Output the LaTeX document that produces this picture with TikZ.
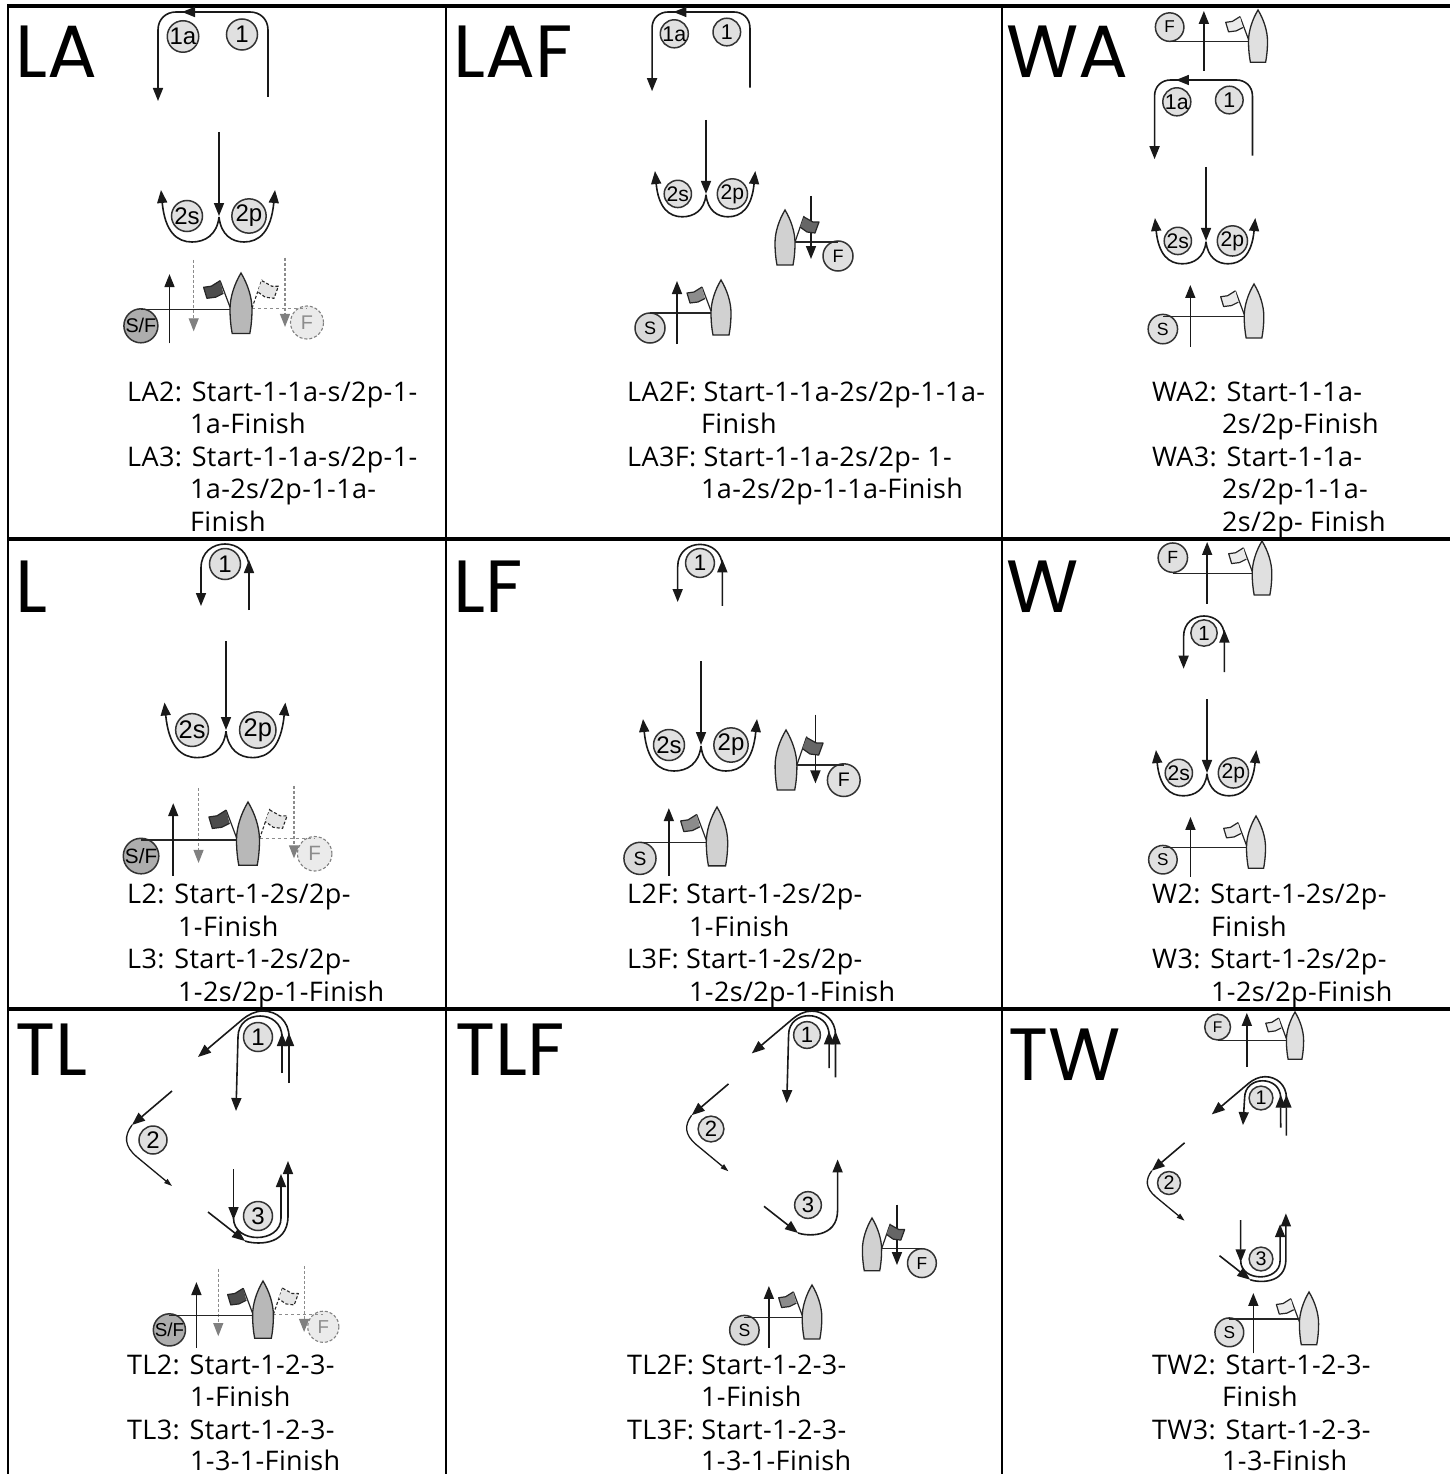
\documentclass[tikz,border=0pt]{standalone}
\usepackage{fontspec}
\setmainfont[LetterSpace=1.3]{Open Sans}
\newfontfamily\markfont{Liberation Sans}
\newfontfamily\titlefont{Poppins}
\usetikzlibrary{arrows.meta}
\newcommand{\legw}{1.6pt}
\newcommand{\rigy}{33}
\tikzset{
    leg/.style = {line width=\legw, draw=black!90, -{Triangle[length=13pt,width=10pt]}},
    shortleg/.style = {line width=1.3pt, draw=black!90, -{Triangle[length=8pt,width=5pt]}},
    rmark/.style = {circle, draw=black!80, line width=1.5pt, fill=black!12, minimum size=31pt, inner sep=0pt, outer sep=0pt, font=\markfont\fontsize{24}{24}\selectfont},
    bmark/.style = {rmark, minimum size=30pt, font=\markfont\fontsize{18}{18}\selectfont},
    hull/.style = {draw=black!85, line width=1.3pt},
    flag/.style = {draw=black!85, line width=1.2pt, line join=round},
    route/.style = {anchor=base west, inner sep=0pt, font=\fontsize{27}{27}\selectfont},
    title/.style = {anchor=base west, inner sep=0pt, font=\titlefont\fontsize{74}{74}\selectfont},
    solidrig/.style = {line width=1.4pt, draw=black!85},
    solidarrow/.style = {leg},
    solidmark/.style = {bmark},
    solidflag/.style = {flag},
    ghostrig/.style = {line width=1.1pt, draw=black!45, dashed},
    ghostarrow/.style = {line width=1.1pt, draw=black!45, densely dashed, -{Triangle[length=13pt,width=10pt,color=black!50]}},
    ghostmark/.style = {bmark, densely dashed, draw=black!50, line width=1.1pt, fill=black!8, text=black!45},
    ghostflag/.style = {flag, densely dashed, line width=1.1pt},
}
% mark 1 and 1a with the offset leg
\newcommand{\offsetmarks}[3]{
    \begin{scope}[shift={(#2)},scale=#3,transform shape]
        \node[rmark] (#1-1a) at (-30,24.5) {1a};
        \node[rmark] (#1-1) at (29,22.5) {1};
        \coordinate (#1-in) at (55,85);
        \coordinate (#1-out) at (-55,89);
        \draw[leg] (#1-in) -- (55,18) .. controls (55,7) and (47,0) .. (37,0) -- (-37,0) .. controls (-47,0) and (-55,7) .. (-55,18) -- (#1-out);
        \draw[leg] (-15,0) -- (-31,0);
    \end{scope}
}
% gate 2s and 2p
\newcommand{\gatemarks}[3]{
    \begin{scope}[shift={(#2)},scale=#3,transform shape]
        \node[rmark] (#1-2s) at (-32,84) {2s};
        \node[rmark] (#1-2p) at (30,84) {2p};
        \coordinate (#1-top) at (0,0);
        \coordinate (#1-cusp) at (0,85);
        \coordinate (#1-sout) at (-58,58);
        \coordinate (#1-pout) at (56,58);
        \draw[leg] (#1-top) -- (0,84);
        \draw[leg] (#1-cusp) .. controls (-2,103) and (-14,110) .. (-27,110) .. controls (-42,110) and (-54,100) .. (#1-sout);
        \draw[leg] (#1-cusp) .. controls (2,103) and (13,110) .. (25,110) .. controls (40,110) and (52,100) .. (#1-pout);
    \end{scope}
}
% mark 1 alone, turned round
\newcommand{\singleloop}[3]{
    \begin{scope}[shift={(#2)},scale=#3,transform shape]
        \node[rmark] (#1-1) at (0,0) {1};
        \coordinate (#1-in) at (24,46);
        \coordinate (#1-turn) at (24,4);
        \coordinate (#1-out) at (-24,42);
        \draw[leg] (#1-in) -- (24,-4);
        \draw[leg] (#1-turn) .. controls (24,-28) and (-24,-28) .. (-24,4) -- (#1-out);
    \end{scope}
}
% triangle mark 1, two rounds; last argument is the length of the leg going down
\newcommand{\triangleone}[4]{
    \begin{scope}[shift={(#2)},scale=#3,transform shape]
        \node[rmark, minimum size=29pt] (#1-1) at (0,0) {1};
        \coordinate (#1-ina) at (24,36);
        \coordinate (#1-inb) at (31,46);
        \coordinate (#1-outa) at (-22,#4);
        \coordinate (#1-outb) at (-60,20);
        \draw[leg] (#1-ina) -- (24,-4);
        \draw[leg] (#1-inb) -- (31,-4);
        \draw[leg] (24,0) .. controls (24,-28) and (-20,-28) .. (-20,0) -- (#1-outa);
        \draw[leg] (31,0) .. controls (31,-16) and (19,-26) .. (5,-26) .. controls (-3,-26) and (-10,-22) .. (-15,-18) -- (#1-outb);
    \end{scope}
}
% wing mark 2
\newcommand{\wingmark}[3]{
    \begin{scope}[shift={(#2)},scale=#3,transform shape]
        \node[rmark, minimum size=28pt] (#1-2) at (0,0) {2};
        \coordinate (#1-in) at (19,-49);
        \coordinate (#1-turn) at (-21,-15);
        \coordinate (#1-out) at (19,46);
        \draw[leg] (#1-in) -- (#1-turn);
        \draw[shortleg] (#1-turn) .. controls (-29,-4) and (-29,6) .. (-16,17) -- (#1-out);
    \end{scope}
}
% leeward turn at mark 3, outer track
\newcommand{\leewardouter}[3]{
    \begin{scope}[shift={(#2)},scale=#3,transform shape]
        \coordinate (#1-ina) at (-50,-4);
        \coordinate (#1-turn) at (-13,25);
        \coordinate (#1-outa) at (30,-55);
        \draw[leg] (#1-ina) -- (#1-turn);
        \draw[leg] (#1-turn) .. controls (-5,28) and (30,32) .. (30,0) -- (#1-outa);
    \end{scope}
}
% leeward turn at mark 3, inner track
\newcommand{\leewardinner}[3]{
    \begin{scope}[shift={(#2)},scale=#3,transform shape]
        \coordinate (#1-inb) at (-24.5,-47);
        \coordinate (#1-outb) at (23,-42);
        \draw[leg] (#1-inb) -- (-24.5,4);
        \draw[leg] (-24.5,2) .. controls (-24.5,28) and (23,28) .. (23,2) -- (#1-outb);
    \end{scope}
}
\newcommand{\boathull}[1]{
    \fill[fill=#1] (0,0) .. controls (6,10) and (10,22) .. (10,33) .. controls (10,42) and (9,50) .. (8,55) -- (-8,55) .. controls (-9,50) and (-10,42) .. (-10,33) .. controls (-10,22) and (-6,10) .. (0,0) -- cycle;
    \draw[hull] (0,0) .. controls (6,10) and (10,22) .. (10,33) .. controls (10,42) and (9,50) .. (8,55) -- (-8,55) .. controls (-9,50) and (-10,42) .. (-10,33) .. controls (-10,22) and (-6,10) .. (0,0) -- cycle;
}
% committee boat with its line, its flag and a mark to the left
\newcommand{\boatline}[9]{
    \begin{scope}[shift={(#2)},scale=#3,transform shape]
        \node[bmark, fill=#7] (#1-mark) at (#4) {#6};
        \coordinate (#1-hull) at (-10,\rigy);
        \coordinate (#1-tail) at (#5,64);
        \coordinate (#1-tip) at (#5,1);
        \draw[solidrig] (#1-hull -| #1-mark) -- (#1-hull);
        \draw[leg] (#1-tail) -- (#1-tip);
        \draw[flag] (-10,31) -- (-19,7);
        \draw[flag, fill=#8] (-19,7) -- (-27,12) -- (-34,13) -- (-31,23) -- (-23,22) -- (-16,18.5);
        \boathull{#9}
    \end{scope}
}
% flag, line and arrow on the right of a boat
\newcommand{\finishline}[7]{
    \begin{scope}[shift={(#2)},scale=#3,transform shape]
        \node[#6mark] (#1-mark) at (#5) {F};
        \coordinate (#1-hull) at (10,32);
        \coordinate (#1-tail) at (#4,-14);
        \coordinate (#1-tip) at (#4,49);
        \draw[#6rig] (#1-hull) -- (#1-hull -| #1-mark);
        \draw[#6arrow] (#1-tail) -- (#1-tip);
        \draw[#6flag] (10,32) -- (19,6);
        \draw[#6flag, fill=#7] (19,7) -- (28,12) -- (34,12) -- (30,23) -- (22,22) -- (15,17);
    \end{scope}
}
\newcommand{\ghostleft}[3]{
    \begin{scope}[shift={(#2)},scale=#3]
        \coordinate (#1-gtail) at (-43,-12);
        \coordinate (#1-gtip) at (-43,53);
        \draw[ghostarrow] (#1-gtail) -- (#1-gtip);
    \end{scope}
}
\newcommand{\finishboat}[3]{
    \begin{scope}[shift={(#1)},scale=#2,transform shape]
        \boathull{#3}
    \end{scope}
}

\begin{document}
\begin{tikzpicture}[x=1pt,y=-1pt]
    \useasboundingbox (0,0) rectangle (1450,1474);
    \fill[white] (0,0) rectangle (1450,1474);
    % table
    \draw[line width=4pt] (7,6) -- (1450,6);
    \draw[line width=3.6pt] (7,539) -- (1450,539);
    \draw[line width=3.6pt] (7,1009) -- (1450,1009);
    \draw[line width=2.4pt] (8,5) -- (8,1474);
    \draw[line width=2.4pt] (446,5) -- (446,1474);
    \draw[line width=2.4pt] (1002,5) -- (1002,1474);

    % LA
    \node[title] (la-t) at (15,78) {LA};
    \offsetmarks{la-a}{213,12}{1}
    \gatemarks{la-g}{219,132}{1}
    \ghostleft{la-s}{241,273}{1.1}
    \finishline{la-f}{241,273}{1.1}{40}{60,45}{ghost}{black!10}
    \boatline{la-s}{241,273}{1.1}{-91,48}{-65}{S/F}{black!32}{black!70}{black!28}
    \node[route] (la-r1) at (127,401) {LA2: Start-1-1a-s/2p-1-};
    \node[route] (la-r2) at (190,433) {1a-Finish};
    \node[route] (la-r3) at (127,466) {LA3: Start-1-1a-s/2p-1-};
    \node[route] (la-r4) at (190,498) {1a-2s/2p-1-1a-};
    \node[route] (la-r5) at (190,531) {Finish};

    % LAF
    \node[title] (laf-t) at (453,78) {LAF};
    \offsetmarks{laf-a}{701,12}{.89}
    \gatemarks{laf-g}{706,120}{.88}
    \boatline{laf-s}{721,280}{1}{-71,48}{-44}{S}{black!15}{black!45}{black!18}
    \finishline{laf-f}{785,210}{1}{26}{53,46}{solid}{black!60}
    \finishboat{785,210}{1}{black!18}
    \node[route] (laf-r1) at (627,401) {LA2F: Start-1-1a-2s/2p-1-1a-};
    \node[route] (laf-r2) at (701,433) {Finish};
    \node[route] (laf-r3) at (627,466) {LA3F: Start-1-1a-2s/2p- 1-};
    \node[route] (laf-r4) at (701,498) {1a-2s/2p-1-1a-Finish};

    % WA
    \node[title] (wa-t) at (1006,78) {WA};
    \boatline{wa-f}{1258,10}{.95}{-93,18}{-57}{F}{black!12}{black!8}{black!12}
    \offsetmarks{wa-a}{1203.5,80}{.89}
    \gatemarks{wa-g}{1206,167}{.88}
    \boatline{wa-s}{1254,284}{.98}{-93,46}{-65}{S}{black!12}{black!8}{black!12}
    \node[route] (wa-r1) at (1152,401) {WA2: Start-1-1a-};
    \node[route] (wa-r2) at (1222,433) {2s/2p-Finish};
    \node[route] (wa-r3) at (1152,466) {WA3: Start-1-1a-};
    \node[route] (wa-r4) at (1222,498) {2s/2p-1-1a-};
    \node[route] (wa-r5) at (1222,531) {2s/2p- Finish};

    % L
    \node[title] (l-t) at (15,612) {L};
    \singleloop{l-a}{225,564}{1}
    \gatemarks{l-g}{226,641}{1.06}
    \ghostleft{l-s}{248,802}{1.15}
    \finishline{l-f}{248,802}{1.15}{40}{58,45}{ghost}{black!10}
    \boatline{l-s}{248,802}{1.15}{-93,47}{-65}{S/F}{black!32}{black!70}{black!28}
    \node[route] (l-r1) at (127,903) {L2: Start-1-2s/2p-};
    \node[route] (l-r2) at (178,936) {1-Finish};
    \node[route] (l-r3) at (127,968) {L3: Start-1-2s/2p-};
    \node[route] (l-r4) at (178,1001) {1-2s/2p-1-Finish};

    % LF
    \node[title] (lf-t) at (453,612) {LF};
    \singleloop{lf-a}{700,563}{.93}
    \gatemarks{lf-g}{701,661}{1}
    \boatline{lf-s}{717,807}{1.07}{-72,48}{-45}{S}{black!15}{black!45}{black!18}
    \finishline{lf-f}{786,730}{1.09}{27}{53,46}{solid}{black!60}
    \finishboat{786,730}{1.09}{black!18}
    \node[route] (lf-r1) at (627,903) {L2F: Start-1-2s/2p-};
    \node[route] (lf-r2) at (689,936) {1-Finish};
    \node[route] (lf-r3) at (627,968) {L3F: Start-1-2s/2p-};
    \node[route] (lf-r4) at (689,1001) {1-2s/2p-1-Finish};

    % W
    \node[title] (w-t) at (1006,612) {W};
    \boatline{w-f}{1262,541}{.98}{-91,17}{-56}{F}{black!12}{black!8}{black!12}
    \singleloop{w-a}{1204,633}{.85}
    \gatemarks{w-g}{1207,699}{.88}
    \boatline{w-s}{1256,816}{.95}{-98,46}{-69}{S}{black!12}{black!8}{black!12}
    \node[route] (w-r1) at (1152,903) {W2: Start-1-2s/2p-};
    \node[route] (w-r2) at (1211,936) {Finish};
    \node[route] (w-r3) at (1152,968) {W3: Start-1-2s/2p-};
    \node[route] (w-r4) at (1211,1001) {1-2s/2p-Finish};

    % TL
    \node[title] (tl-t) at (15,1075) {TL};
    \triangleone{tl-a}{258,1037}{1}{74}
    \wingmark{tl-b}{153,1140}{1}
    \node[rmark, minimum size=29pt] (tl-3) at (258,1216) {3};
    \leewardouter{tl-c}{258,1216}{1}
    \leewardinner{tl-c}{258,1216}{1}
    \ghostleft{tl-s}{263,1281}{1.04}
    \finishline{tl-f}{263,1281}{1.04}{39.5}{58,44}{ghost}{black!10}
    \boatline{tl-s}{263,1281}{1.04}{-90,47}{-64}{S/F}{black!32}{black!70}{black!28}
    \node[route] (tl-r1) at (127,1374) {TL2: Start-1-2-3-};
    \node[route] (tl-r2) at (190,1406) {1-Finish};
    \node[route] (tl-r3) at (127,1439) {TL3: Start-1-2-3-};
    \node[route] (tl-r4) at (190,1470) {1-3-1-Finish};

    % TLF
    \node[title] (tlf-t) at (455,1075) {TLF};
    \triangleone{tlf-a}{807,1035}{.92}{74}
    \wingmark{tlf-b}{711,1129}{.92}
    \node[rmark, minimum size=29pt, scale=.92] (tlf-3) at (808,1205) {3};
    \leewardouter{tlf-c}{810,1210}{.92}
    \boatline{tlf-s}{812,1285}{.98}{-69,46}{-44}{S}{black!15}{black!45}{black!18}
    \finishline{tlf-f}{872,1218}{.96}{26}{52,47}{solid}{black!60}
    \finishboat{872,1218}{.96}{black!18}
    \node[route] (tlf-r1) at (627,1374) {TL2F: Start-1-2-3-};
    \node[route] (tlf-r2) at (701,1406) {1-Finish};
    \node[route] (tlf-r3) at (627,1439) {TL3F: Start-1-2-3-};
    \node[route] (tlf-r4) at (701,1470) {1-3-1-Finish};

    % TW
    \node[title] (tw-t) at (1008,1080) {TW};
    \boatline{tw-f}{1295,1012}{.86}{-90,17.5}{-56}{F}{black!12}{black!8}{black!12}
    \triangleone{tw-a}{1261,1098}{.82}{33}
    \wingmark{tw-b}{1169,1183}{.82}
    \node[rmark, minimum size=29pt, scale=.82] (tw-3) at (1261,1259) {3};
    \leewardouter{tw-c}{1261,1259}{.83}
    \leewardinner{tw-c}{1261,1259}{.83}
    \renewcommand{\rigy}{28}
    \boatline{tw-s}{1309,1292}{.96}{-83,42}{-58}{S}{black!12}{black!8}{black!12}
    \node[route] (tw-r1) at (1152,1374) {TW2: Start-1-2-3-};
    \node[route] (tw-r2) at (1222,1406) {Finish};
    \node[route] (tw-r3) at (1152,1439) {TW3: Start-1-2-3-};
    \node[route] (tw-r4) at (1222,1470) {1-3-Finish};
\end{tikzpicture}
\end{document}
